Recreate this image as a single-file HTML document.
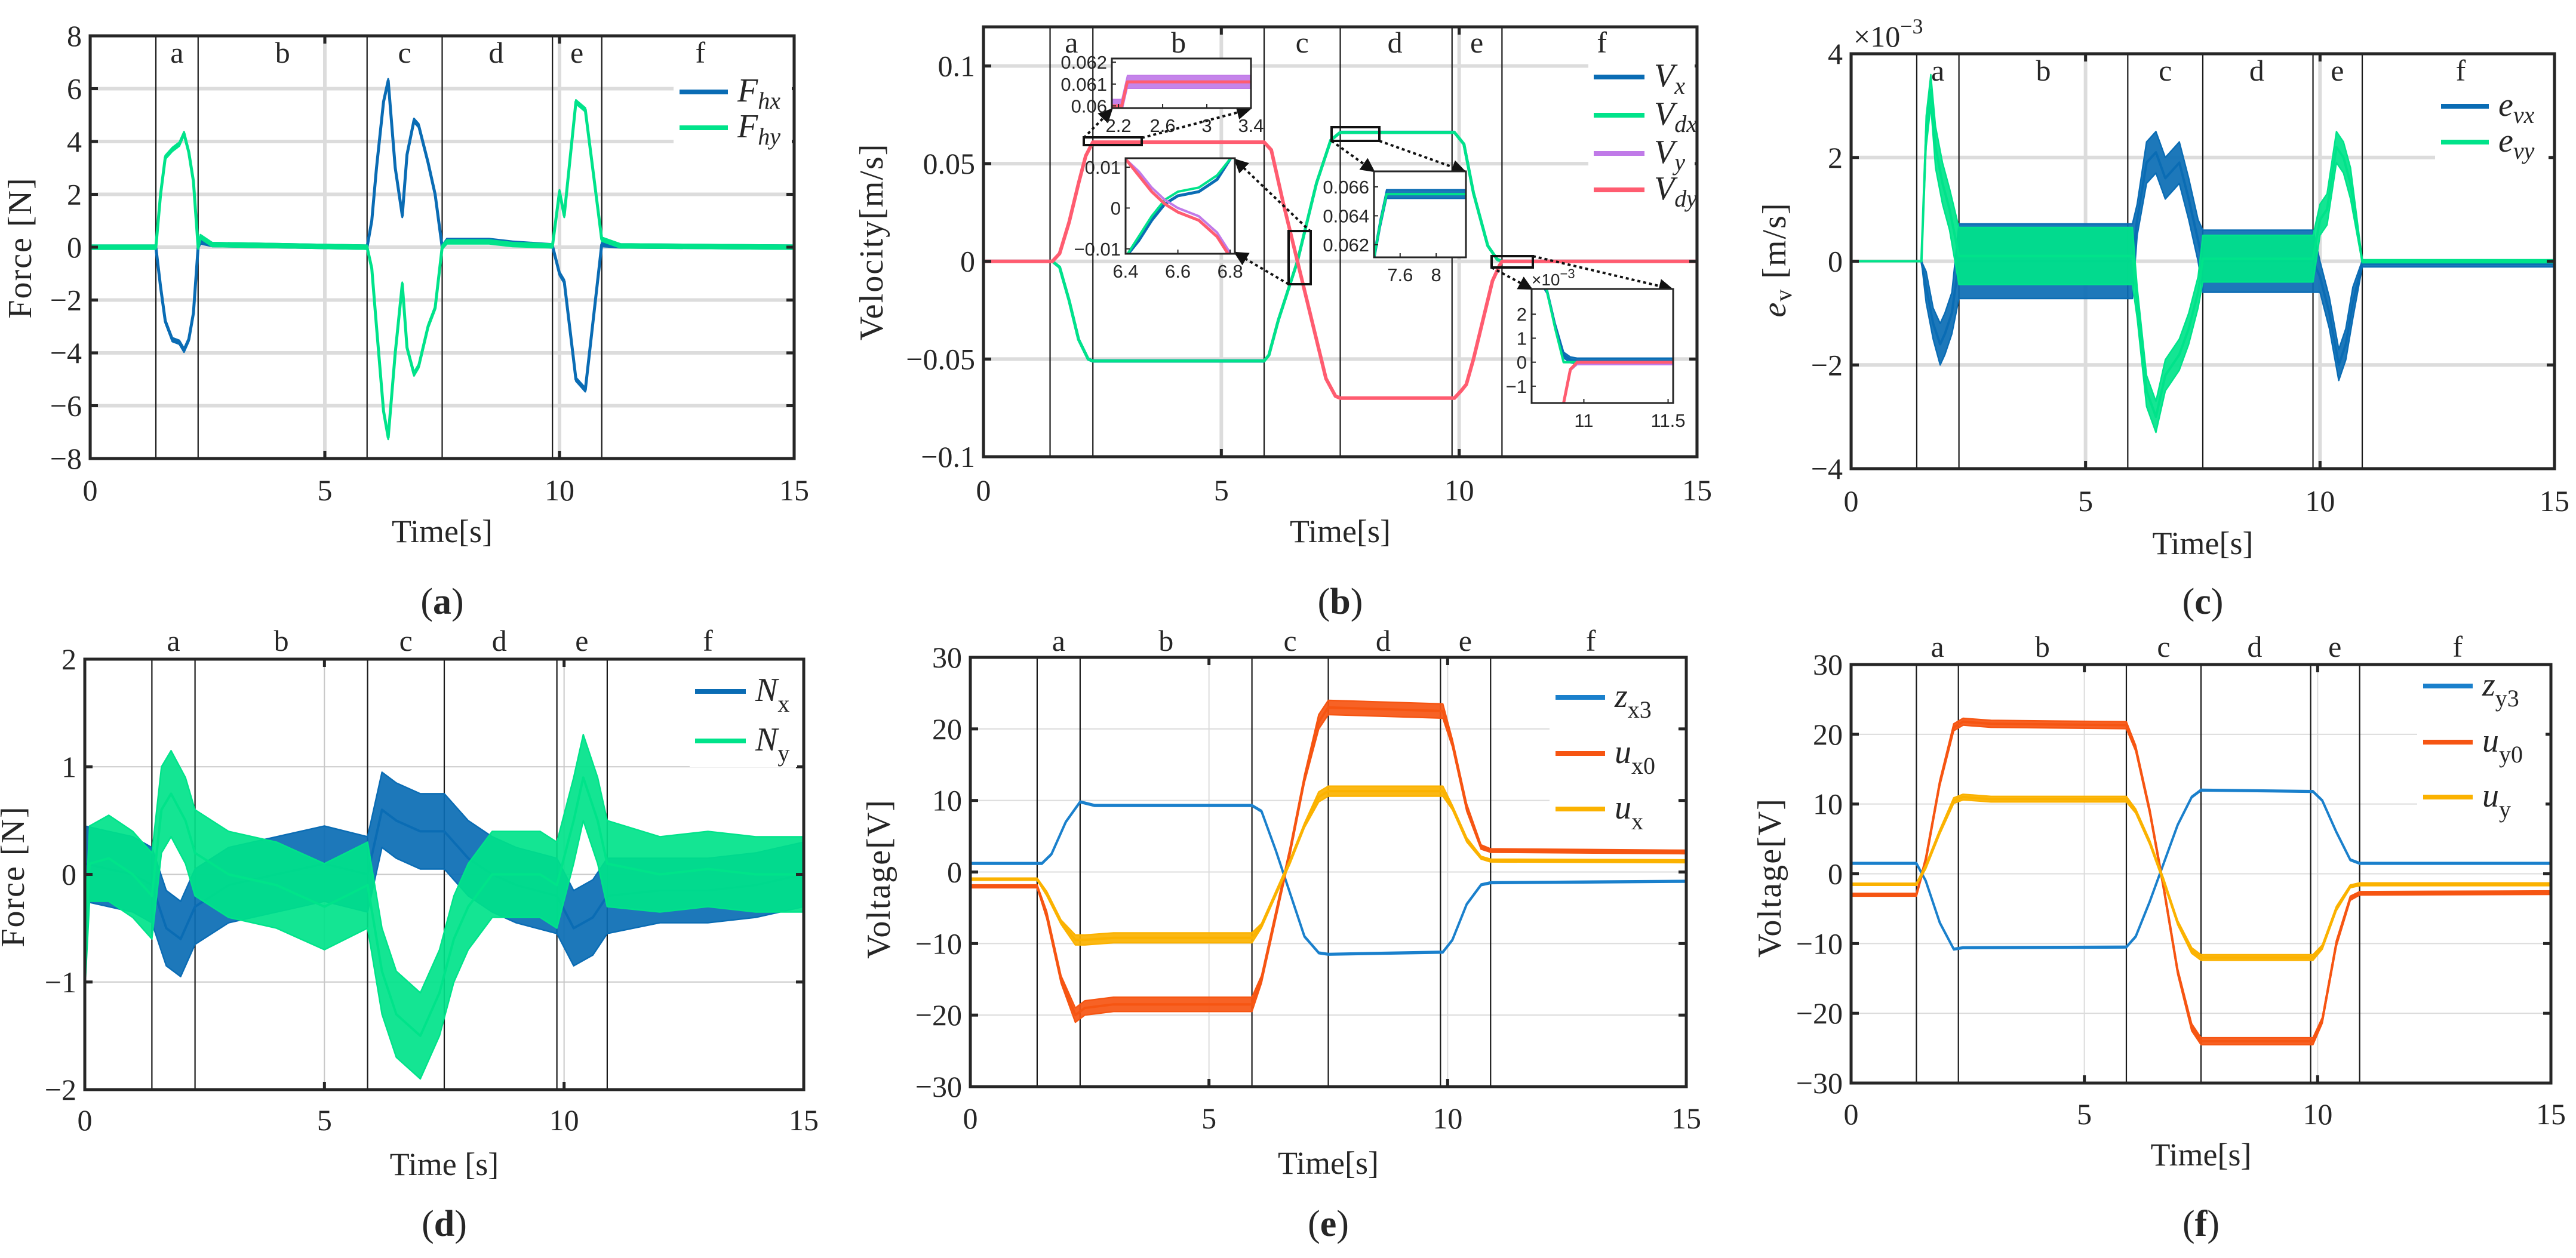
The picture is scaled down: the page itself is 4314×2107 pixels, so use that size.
<!DOCTYPE html>
<html><head><meta charset="utf-8"><style>
html,body{margin:0;padding:0;background:#fff}
svg{display:block}
text{font-family:"Liberation Serif",serif;fill:#262626}
.s{font-family:"Liberation Sans",sans-serif}
</style></head><body>
<svg id="fig" xmlns="http://www.w3.org/2000/svg" width="4314" height="2107" viewBox="0 0 4314 2107"></svg>
<script>
// ---------- shared data ----------
const phaseTimes = [1.4, 2.3, 5.9, 7.5, 9.85, 10.9];
const phaseLetters = ['a','b','c','d','e','f'];
const phaseLabelTimes = [1.85, 4.1, 6.7, 8.65, 10.37, 13.0];
const xTicks = [0, 5, 10, 15];

// (a) hand force
const aT = [0,1.4,1.5,1.6,1.75,1.9,2.0,2.1,2.2,2.3,2.35,2.6,5.9,6.0,6.1,6.25,6.35,6.5,6.65,6.75,6.9,7.0,7.2,7.35,7.5,7.6,8.5,9.0,9.85,10.0,10.1,10.35,10.55,10.67,10.9,11.3,15];
const aFhy = [0,0,2.0,3.4,3.7,3.9,4.3,3.6,2.5,0,0.4,0.1,0,-0.8,-3,-6.2,-7.2,-4,-1.4,-3.8,-4.8,-4.5,-3,-2.3,0,0.2,0.2,0.1,0.05,2.1,1.2,5.5,5.2,3.5,0.3,0.05,0];
const aFhx = [0,0,-1.5,-2.8,-3.5,-3.6,-3.9,-3.5,-2.5,0,0.2,0.1,0,1.0,3,5.5,6.3,3,1.2,3.5,4.8,4.6,3.2,2.0,0,0.25,0.25,0.15,0.05,-1.0,-1.3,-5.0,-5.4,-3.5,0.1,0.05,0];
const aYTicks = [-8,-6,-4,-2,0,2,4,6,8];

// (b) velocity
const bTy = [0,1.45,1.6,1.8,2.0,2.15,2.3,5.9,6.05,6.3,6.6,6.9,7.2,7.4,7.5,9.9,10.05,10.15,10.3,10.5,10.7,10.85,10.9,15];
const bVdy = [0,0,0.004,0.02,0.04,0.054,0.061,0.061,0.057,0.03,0,-0.03,-0.06,-0.069,-0.07,-0.07,-0.066,-0.063,-0.05,-0.03,-0.01,-0.002,0,0];
const bVy = [0,0,0.004,0.02,0.04,0.054,0.061,0.061,0.057,0.03,0,-0.03,-0.06,-0.069,-0.07,-0.07,-0.066,-0.063,-0.05,-0.03,-0.01,-0.002,0,0];
const bTx = [0,1.45,1.6,1.8,2.0,2.2,2.3,5.9,6.0,6.2,6.6,7.0,7.3,7.5,9.9,10.1,10.3,10.6,10.8,10.9,15];
const bVdx = [0,0,-0.003,-0.02,-0.04,-0.05,-0.051,-0.051,-0.048,-0.03,0,0.04,0.062,0.066,0.066,0.06,0.035,0.008,0.001,0,0];
const bVx = [0,0,-0.003,-0.02,-0.04,-0.05,-0.051,-0.051,-0.048,-0.03,0,0.04,0.062,0.066,0.066,0.06,0.035,0.008,0.001,0,0];
const bYTicks = [-0.1,-0.05,0,0.05,0.1];
const bYTickLabels = ['\u22120.1','\u22120.05','0','0.05','0.1'];
// insets
const in1T = [2.14,2.23,2.28,3.4];
const in1Vdy = [0.0600,0.0600,0.0611,0.0611];
const in1Vy = [0.0600,0.0600,0.0611,0.0611];
const in2T = [6.4,6.45,6.5,6.55,6.6,6.68,6.75,6.8];
const in2Vdy = [0.012,0.008,0.004,0.001,-0.001,-0.003,-0.007,-0.012];
const in2Vy = [0.012,0.009,0.005,0.002,0.000,-0.002,-0.006,-0.011];
const in2Vdx = [-0.012,-0.007,-0.002,0.002,0.004,0.005,0.008,0.012];
const in2Vx = [-0.012,-0.008,-0.003,0.001,0.003,0.004,0.007,0.012];
const in3T = [7.31,7.38,7.45,8.33];
const in3Vdx = [0.0611,0.0635,0.0655,0.0655];
const in3Vx = [0.0611,0.0635,0.0655,0.0655];
const in4T = [10.69,10.78,10.83,10.88,10.92,10.96,11.53];
const in4Vx = [4,3,1.5,0.3,0.1,0.05,0.05];
const in4Vdx = [4,3,1.4,0,0,0,0];
const in4Vdy = [-4,-4,-4,-1.7,-0.3,0,0];
const in4Vy = [-4,-4,-4,-1.7,-0.3,-0.05,-0.05];

// (c) velocity error (x1e-3)
const cTy = [0,1.5,1.6,1.7,1.8,1.95,2.1,2.3,6.0,6.1,6.3,6.5,6.7,6.85,7.0,7.2,7.4,7.5,9.85,10.0,10.15,10.35,10.5,10.65,10.9,15];
const cEvy = [0,0,2.5,3.3,2.2,1.5,1.0,0.1,0.1,-0.8,-2.5,-3.0,-2.2,-2.0,-1.8,-1.3,-0.6,0.05,0.05,0.8,1.0,2.2,2.0,1.5,0,0];
const cEvyN = [0,0,0.3,0.3,0.4,0.4,0.4,0.55,0.55,0.3,0.3,0.3,0.3,0.3,0.3,0.3,0.3,0.45,0.45,0.3,0.3,0.3,0.3,0.3,0.03,0.03];
const cTx = [0,1.5,1.6,1.75,1.9,2.0,2.15,2.3,6.0,6.1,6.3,6.5,6.7,6.9,7.0,7.2,7.4,7.5,9.85,10.0,10.2,10.4,10.55,10.7,10.9,15];
const cEvx = [0,0,-0.5,-1.2,-1.6,-1.4,-1.0,0,0,0.8,1.9,2.1,1.6,1.8,1.9,1.2,0.4,0,0,-0.3,-1.0,-2.0,-1.6,-0.8,-0.05,-0.05];
const cEvxN = [0,0,0.3,0.3,0.4,0.4,0.4,0.72,0.72,0.3,0.4,0.4,0.4,0.4,0.4,0.4,0.4,0.6,0.6,0.3,0.3,0.3,0.3,0.3,0.06,0.06];
const cYTicks = [-4,-2,0,2,4];

// (d) disturbance force
const dTx = [0,0.5,1.0,1.4,1.7,2.0,2.3,3.0,4.0,5.0,5.9,6.2,6.5,7.0,7.5,8.0,8.5,9.0,9.85,10.2,10.6,10.9,12,13,14,15];
const dNx = [0.1,0.05,0,-0.1,-0.5,-0.6,-0.3,-0.1,0,0.1,0,0.6,0.5,0.4,0.4,0.15,0,-0.1,-0.2,-0.5,-0.4,-0.2,-0.15,-0.15,-0.1,0];
const dNxN = [0.35,0.35,0.35,0.35,0.35,0.35,0.35,0.35,0.35,0.35,0.35,0.35,0.35,0.35,0.35,0.35,0.35,0.35,0.35,0.35,0.35,0.35,0.3,0.3,0.3,0.3];
const dTy = [0,0.1,0.5,1.0,1.4,1.6,1.8,2.1,2.3,3.0,4.0,5.0,5.9,6.2,6.5,7.0,7.4,7.7,8.0,8.5,9.5,9.85,10.2,10.4,10.7,10.9,12,13,14,15];
const dNy = [-0.8,0.1,0.15,0,-0.2,0.6,0.75,0.5,0.2,0,-0.1,-0.3,-0.1,-0.9,-1.3,-1.5,-1.1,-0.6,-0.3,0,0,-0.1,0.5,0.9,0.5,0.1,0,0.05,0,0];
const dNyN = [0.3,0.35,0.4,0.4,0.4,0.4,0.4,0.4,0.4,0.4,0.4,0.4,0.4,0.4,0.4,0.4,0.4,0.4,0.4,0.4,0.4,0.4,0.4,0.4,0.4,0.4,0.35,0.35,0.35,0.35];
const dYTicks = [-2,-1,0,1,2];

// (e) x voltages
const eTz = [0,1.5,1.7,2.0,2.3,2.6,5.9,6.1,6.4,6.7,7.0,7.3,7.5,9.9,10.1,10.4,10.7,10.9,15];
const eZx3 = [1.2,1.2,2.5,7,9.8,9.3,9.3,8.5,3,-3,-9,-11.3,-11.5,-11.2,-9.5,-4.5,-1.8,-1.5,-1.3];
const eTu = [0,1.4,1.6,1.9,2.2,2.4,3,5.9,6.1,6.4,6.7,7.0,7.3,7.5,9.9,10.1,10.4,10.7,10.9,15];
const eUx0 = [-2,-2,-6,-15,-20,-19,-18.5,-18.5,-15,-6,3,13,21,23,22.5,18,9,3.5,3,2.8];
const eUx0N = [0.2,0.2,0.5,0.5,1,1,1,1,0.5,0.5,0.5,0.5,1,1,1,0.5,0.5,0.3,0.25,0.25];
const eUx = [-1,-1,-3,-7,-9.5,-9.5,-9.2,-9.2,-7.5,-3,1.5,6.5,10.5,11.3,11.3,9,4.5,2,1.6,1.5];
const eUxN = [0.15,0.15,0.3,0.3,0.7,0.7,0.7,0.7,0.3,0.3,0.3,0.3,0.7,0.7,0.7,0.3,0.3,0.2,0.2,0.2];
const vYTicks = [-30,-20,-10,0,10,20,30];

// (f) y voltages
const fTz = [0,1.4,1.6,1.9,2.2,2.4,5.9,6.1,6.4,6.7,7.0,7.3,7.5,9.9,10.1,10.4,10.7,10.9,15];
const fZy3 = [1.5,1.5,-1,-7,-10.8,-10.6,-10.5,-9,-4,1.5,7,11,12,11.8,10.5,6,2,1.5,1.5];
const fTu = [0,1.4,1.6,1.9,2.2,2.4,3,5.9,6.1,6.4,6.7,7.0,7.3,7.5,9.9,10.1,10.4,10.7,10.9,15];
const fUy0 = [-3,-3,2,13,21,21.8,21.5,21.3,18,9,-2,-14,-22,-24,-24,-21,-10,-3.5,-2.8,-2.7];
const fUy0N = [0.2,0.2,0.4,0.4,0.5,0.5,0.5,0.5,0.4,0.4,0.4,0.4,0.5,0.5,0.5,0.4,0.4,0.3,0.25,0.25];
const fUy = [-1.5,-1.5,1,6,10.5,11,10.7,10.7,9,4.5,-1,-7,-11,-12,-12,-10.5,-5,-1.8,-1.5,-1.5];
const fUyN = [0.15,0.15,0.3,0.3,0.4,0.4,0.4,0.4,0.3,0.3,0.3,0.3,0.4,0.4,0.4,0.3,0.3,0.2,0.2,0.2];

// ---------- drawing helpers ----------
const NS = 'http://www.w3.org/2000/svg';
const svg = document.getElementById('fig');
function el(tag, attrs, parent) {
  const e = document.createElementNS(NS, tag);
  for (const k in attrs) e.setAttribute(k, attrs[k]);
  (parent || svg).appendChild(e);
  return e;
}
const BLUE = '#0a6cb4', GREEN = '#00e38a', PURPLE = '#c07ae8', RED = '#ff5c70',
      ORANGE = '#f65512', YELLOW = '#fbb200', ZBLUE = '#1a80cc';

let clipId = 0;
function makeAxes(c) {
  const g = el('g', {});
  
  
  const xs = t => c.l + (t - c.x0) / (c.x1 - c.x0) * (c.r - c.l);
  const ys = v => c.b - (v - c.y0) / (c.y1 - c.y0) * (c.b - c.t);
  const bg = el('rect', {x:c.l, y:c.t, width:c.r-c.l, height:c.b-c.t, fill:'#fff'}, g);
  
  
  const cid = 'clip' + (clipId++);
  const cp = el('clipPath', {id:cid}, g);
  el('rect', {x:c.l, y:c.t, width:c.r-c.l, height:c.b-c.t}, cp);
  const plot = el('g', {'clip-path':'url(#'+cid+')'}, g);
  return {g, plot, xs, ys, c};
}
function drawSeries(ax, T, V, N, color, w, name) {
  const {xs, ys, plot} = ax;
  if (N) {
    let up = [], lo = [];
    for (let i = 0; i < T.length; i++) {
      const n = Array.isArray(N) ? N[i] : N;
      up.push(xs(T[i]).toFixed(1) + ',' + ys(V[i] + n).toFixed(1));
      lo.unshift(xs(T[i]).toFixed(1) + ',' + ys(V[i] - n).toFixed(1));
    }
    const band = el('polygon', {points: up.concat(lo).join(' '), fill: color, 'fill-opacity': 0.92, stroke: color, 'stroke-width': w*0.6, 'stroke-linejoin':'round'}, plot);
    
    
  }
  const pts = T.map((t, i) => xs(t).toFixed(1) + ',' + ys(V[i]).toFixed(1)).join(' ');
  const line = el('polyline', {points: pts, fill:'none', stroke: color, 'stroke-width': w, 'stroke-linejoin':'round', 'stroke-linecap':'round'}, plot);
  
  
}
function decorate(ax, o) {
  const {g, plot, xs, ys, c} = ax;
  o.yTicks.forEach(v => {
    const gl = el('line', {x1:c.l, x2:c.r, y1:ys(v), y2:ys(v), stroke:o.gridColor, 'stroke-width':o.gridW}, plot);
    
    
  });
  xTicks.forEach(t => {
    const gl = el('line', {x1:xs(t), x2:xs(t), y1:c.t, y2:c.b, stroke:o.gridColor, 'stroke-width':o.gridW}, plot);
    
    
  });
  phaseTimes.forEach(t => {
    const pl = el('line', {x1:xs(t), x2:xs(t), y1:c.t, y2:c.b, stroke:'#1a1a1a', 'stroke-width':2.2}, plot);
    
    
  });
}
function finish(ax, o) {
  const {g, xs, ys, c} = ax;
  const box = el('rect', {x:c.l, y:c.t, width:c.r-c.l, height:c.b-c.t, fill:'none', stroke:'#262626', 'stroke-width':5}, g);
  
  
  o.yTicks.forEach((v, i) => {
    el('line', {x1:c.l, x2:c.l+13, y1:ys(v), y2:ys(v), stroke:'#262626', 'stroke-width':5}, g);
    el('line', {x1:c.r-13, x2:c.r, y1:ys(v), y2:ys(v), stroke:'#262626', 'stroke-width':5}, g);
    const tl = el('text', {x:c.l-14, y:ys(v)+17, 'text-anchor':'end', 'font-size':50}, g);
    tl.textContent = o.yLabels ? o.yLabels[i] : String(v).replace('-', '\u2212');
    
    
  });
  xTicks.forEach(t => {
    el('line', {x1:xs(t), x2:xs(t), y1:c.b-13, y2:c.b, stroke:'#262626', 'stroke-width':5}, g);
    el('line', {x1:xs(t), x2:xs(t), y1:c.t, y2:c.t+13, stroke:'#262626', 'stroke-width':5}, g);
    const tl = el('text', {x:xs(t), y:o.xTickY, 'text-anchor':'middle', 'font-size':50}, g);
    tl.textContent = String(t);
    
    
  });
  phaseLetters.forEach((p, i) => {
    const pl = el('text', {x:xs(phaseLabelTimes[i]), y:o.phaseY, 'text-anchor':'middle', 'font-size':50}, g);
    pl.textContent = p;
    
    
  });
  const xt = el('text', {x:(c.l+c.r)/2, y:o.xTitleY, 'text-anchor':'middle', 'font-size':54}, g);
  xt.textContent = o.xTitle;
  
  
  const cap = el('text', {x:(c.l+c.r)/2, y:o.capY, 'text-anchor':'middle', 'font-size':62}, g);
  cap.innerHTML = '(<tspan font-weight="bold">' + o.cap + '</tspan>)';
  
  
}
function yTitle(x, y, html) {
  const t = el('text', {x:x, y:y, 'text-anchor':'middle', 'font-size':56, transform:'rotate(-90 '+x+' '+y+')', 'letter-spacing':2});
  t.innerHTML = html;
  
  
}
function legend(items, x1, x2, bgRect) {
  const lg = el('g', {});
  
  
  el('rect', {x:bgRect[0], y:bgRect[1], width:bgRect[2], height:bgRect[3], fill:'#fff'}, lg);
  items.forEach(it => {
    const ln = el('line', {x1:x1, x2:x2, y1:it.y, y2:it.y, stroke:it.color, 'stroke-width':8}, lg);
    
    
    const tx = el('text', {x:x2+16, y:it.y+16, 'font-size':it.fs || 56}, lg);
    tx.innerHTML = it.html;
    
    
  });
}

// ---------- (a) ----------
const axA = makeAxes({name:'panel-a-hand-force', l:151, r:1330, t:60, b:768, x0:0, x1:15, y0:-8, y1:8});
decorate(axA, {yTicks:aYTicks, gridColor:'#dcdcdc', gridW:6});
drawSeries(axA, aT, aFhx, 0.07, BLUE, 5, 'fhx');
drawSeries(axA, aT, aFhy, 0.07, GREEN, 5, 'fhy');
legend([{y:154, color:BLUE, html:'<tspan font-style="italic">F</tspan><tspan font-style="italic" font-size="40" dy="12">hx</tspan>'},
        {y:214, color:GREEN, html:'<tspan font-style="italic">F</tspan><tspan font-style="italic" font-size="40" dy="12">hy</tspan>'}],
       1138, 1219, [1128, 118, 198, 135]);
finish(axA, {yTicks:aYTicks, xTickY:838, phaseY:105, xTitle:'Time[s]', xTitleY:908, cap:'a', capY:1028});
yTitle(52, 415, 'Force [N]');

// ---------- (b) ----------
const axB = makeAxes({name:'panel-b-velocity', l:1647, r:2842, t:45, b:765, x0:0, x1:15, y0:-0.1, y1:0.12});
decorate(axB, {yTicks:bYTicks, gridColor:'#dcdcdc', gridW:6});
drawSeries(axB, bTx, bVx, 0.0004, BLUE, 5, 'vx');
drawSeries(axB, bTx, bVdx, 0, GREEN, 5, 'vdx');
drawSeries(axB, bTy, bVy, 0.0003, PURPLE, 5, 'vy');
drawSeries(axB, bTy, bVdy, 0, RED, 6, 'vdy');
legend([{y:129, color:BLUE, html:'<tspan font-style="italic">V</tspan><tspan font-style="italic" font-size="40" dy="12">x</tspan>'},
        {y:193, color:GREEN, html:'<tspan font-style="italic">V</tspan><tspan font-style="italic" font-size="40" dy="12">dx</tspan>'},
        {y:257, color:PURPLE, html:'<tspan font-style="italic">V</tspan><tspan font-style="italic" font-size="40" dy="12">y</tspan>'},
        {y:318, color:RED, html:'<tspan font-style="italic">V</tspan><tspan font-style="italic" font-size="40" dy="12">dy</tspan>'}],
       2669, 2754, [2660, 95, 178, 250]);
const zr = [[1815,230,97,13],[2158,387,37,89],[2230,213,80,23],[2498,429,69,19]];
zr.forEach(r => {
  const rr = el('rect', {x:r[0], y:r[1], width:r[2], height:r[3], fill:'none', stroke:'#111', 'stroke-width':4});
  
  
});
const defs = el('defs', {});
const mk = el('marker', {id:'arr', viewBox:'0 0 10 10', refX:9, refY:5, markerWidth:6, markerHeight:6, orient:'auto'}, defs);
el('path', {d:'M0,0 L10,5 L0,10 z', fill:'#111'}, mk);
const arrows = [[1815,231,1862,183],[1912,231,2093,183],[2195,388,2068,267],[2158,476,2068,423],[2230,236,2301,287],[2310,236,2453,287],[2498,448,2565,484],[2567,429,2800,484]];
arrows.forEach(a => {
  const ar = el('line', {x1:a[0], y1:a[1], x2:a[2], y2:a[3], stroke:'#111', 'stroke-width':4, 'stroke-dasharray':'5 5', 'marker-end':'url(#arr)'});
  
  
});
function inset(cfg, series, yt, xt) {
  const ax = makeAxes(cfg);
  series.forEach(s => drawSeries(ax, s[0], s[1], s[2], s[3], s[4], s[5]));
  const c = ax.c;
  const bx = el('rect', {x:c.l, y:c.t, width:c.r-c.l, height:c.b-c.t, fill:'none', stroke:'#262626', 'stroke-width':3}, ax.g);
  
  
  yt.forEach(v => {
    const t = el('text', {x:c.l-8, y:ax.ys(v[0])+11, 'text-anchor':'end', 'font-size':31, class:'s'}, ax.g);
    t.textContent = v[1];
    
    
    el('line', {x1:c.l, x2:c.l+7, y1:ax.ys(v[0]), y2:ax.ys(v[0]), stroke:'#262626', 'stroke-width':2}, ax.g);
  });
  xt.forEach(v => {
    const t = el('text', {x:ax.xs(v[0]), y:c.b+40, 'text-anchor':'middle', 'font-size':31, class:'s'}, ax.g);
    t.textContent = v[1];
    
    
    el('line', {x1:ax.xs(v[0]), x2:ax.xs(v[0]), y1:c.b, y2:c.b-7, stroke:'#262626', 'stroke-width':2}, ax.g);
  });
  return ax;
}
inset({name:'inset-b-plateau', l:1862, r:2095, t:98, b:181, x0:2.14, x1:3.4, y0:0.0599, y1:0.06217},
  [[in1T, in1Vy, 0.0003, PURPLE, 3, 'inset-vy'], [in1T, in1Vdy, 0, RED, 5, 'inset-vdy']],
  [[0.062,'0.062'],[0.061,'0.061'],[0.06,'0.06']], [[2.2,'2.2'],[2.6,'2.6'],[3,'3'],[3.4,'3.4']]);
inset({name:'inset-b-crossing', l:1885, r:2068, t:265, b:425, x0:6.4, x1:6.818, y0:-0.0112, y1:0.0122},
  [[in2T, in2Vx, 0, BLUE, 5, 'inset-vx'], [in2T, in2Vdx, 0, GREEN, 4, 'inset-vdx'], [in2T, in2Vy, 0, PURPLE, 4, 'inset-vy'], [in2T, in2Vdy, 0, RED, 5, 'inset-vdy']],
  [[0.01,'0.01'],[0,'0'],[-0.01,'\u22120.01']], [[6.4,'6.4'],[6.6,'6.6'],[6.8,'6.8']]);
inset({name:'inset-b-peak', l:2301, r:2455, t:287, b:431, x0:7.31, x1:8.33, y0:0.06113, y1:0.06707},
  [[in3T, in3Vx, 0.0003, BLUE, 4, 'inset-vx'], [in3T, in3Vdx, 0, GREEN, 4, 'inset-vdx']],
  [[0.066,'0.066'],[0.064,'0.064'],[0.062,'0.062']], [[7.6,'7.6'],[8,'8']]);
inset({name:'inset-b-settle', l:2565, r:2802, t:484, b:675, x0:10.69, x1:11.53, y0:-1.7, y1:3.05},
  [[in4T, in4Vx, 0.12, BLUE, 4, 'inset-vx'], [in4T, in4Vdx, 0, GREEN, 4, 'inset-vdx'], [in4T, in4Vy, 0.05, PURPLE, 4, 'inset-vy'], [in4T, in4Vdy, 0, RED, 5, 'inset-vdy']],
  [[2,'2'],[1,'1'],[0,'0'],[-1,'\u22121']], [[11,'11'],[11.5,'11.5']]);
const ex4 = el('text', {x:2565, y:478, 'font-size':28, class:'s'});
ex4.innerHTML = '\u00d710<tspan dy="-12" font-size="22">\u22123</tspan>';


finish(axB, {yTicks:bYTicks, yLabels:bYTickLabels, xTickY:838, phaseY:88, xTitle:'Time[s]', xTitleY:908, cap:'b', capY:1028});
yTitle(1478, 405, 'Velocity[m/s]');

// ---------- (c) ----------
const axC = makeAxes({name:'panel-c-velocity-error', l:3100, r:4278, t:90, b:785, x0:0, x1:15, y0:-4, y1:4});
decorate(axC, {yTicks:cYTicks, gridColor:'#dcdcdc', gridW:6});
drawSeries(axC, cTx, cEvx, cEvxN, BLUE, 4, 'evx');
drawSeries(axC, cTy, cEvy, cEvyN, GREEN, 4, 'evy');
legend([{y:178, color:BLUE, html:'<tspan font-style="italic">e</tspan><tspan font-style="italic" font-size="40" dy="12">vx</tspan>'},
        {y:238, color:GREEN, html:'<tspan font-style="italic">e</tspan><tspan font-style="italic" font-size="40" dy="12">vy</tspan>'}],
       4088, 4168, [4078, 145, 190, 130]);
finish(axC, {yTicks:cYTicks, xTickY:856, phaseY:135, xTitle:'Time[s]', xTitleY:928, cap:'c', capY:1028});
const exC = el('text', {x:3104, y:78, 'font-size':50});
exC.innerHTML = '\u00d710<tspan dy="-22" font-size="36">\u22123</tspan>';


yTitle(2990, 435, '<tspan font-style="italic">e</tspan><tspan font-size="40" dx="0" dy="10">v</tspan><tspan dy="-10"> [m/s]</tspan>');

// ---------- (d) ----------
const axD = makeAxes({name:'panel-d-disturbance-force', l:142, r:1346, t:1104, b:1825, x0:0, x1:15, y0:-2, y1:2});
decorate(axD, {yTicks:dYTicks, gridColor:'#c8c8c8', gridW:2});
drawSeries(axD, dTx, dNx, dNxN, BLUE, 4, 'nx');
drawSeries(axD, dTy, dNy, dNyN, GREEN, 4, 'ny');
legend([{y:1158, color:BLUE, html:'<tspan font-style="italic">N</tspan><tspan font-size="40" dy="18">x</tspan>'},
        {y:1241, color:GREEN, html:'<tspan font-style="italic">N</tspan><tspan font-size="40" dy="18">y</tspan>'}],
       1164, 1249, [1155, 1115, 180, 170]);
finish(axD, {yTicks:dYTicks, xTickY:1893, phaseY:1090, xTitle:'Time [s]', xTitleY:1968, cap:'d', capY:2070});
yTitle(40, 1468, 'Force [N]');

// ---------- (e) ----------
const axE = makeAxes({name:'panel-e-x-voltage', l:1625, r:2824, t:1101, b:1820, x0:0, x1:15, y0:-30, y1:30});
decorate(axE, {yTicks:vYTicks, gridColor:'#dcdcdc', gridW:2});
drawSeries(axE, eTz, eZx3, 0.12, ZBLUE, 4, 'zx3');
drawSeries(axE, eTu, eUx0, eUx0N, ORANGE, 4, 'ux0');
drawSeries(axE, eTu, eUx, eUxN, YELLOW, 4, 'ux');
legend([{y:1168, color:ZBLUE, html:'<tspan font-style="italic">z</tspan><tspan font-size="40" dy="18">x3</tspan>'},
        {y:1262, color:ORANGE, html:'<tspan font-style="italic">u</tspan><tspan font-size="40" dy="18">x0</tspan>'},
        {y:1355, color:YELLOW, html:'<tspan font-style="italic">u</tspan><tspan font-size="40" dy="18">x</tspan>'}],
       2605, 2688, [2595, 1125, 215, 280]);
finish(axE, {yTicks:vYTicks, xTickY:1890, phaseY:1090, xTitle:'Time[s]', xTitleY:1966, cap:'e', capY:2070});
yTitle(1490, 1472, 'Voltage[V]');

// ---------- (f) ----------
const axF = makeAxes({name:'panel-f-y-voltage', l:3100, r:4272, t:1113, b:1814, x0:0, x1:15, y0:-30, y1:30});
decorate(axF, {yTicks:vYTicks, gridColor:'#dcdcdc', gridW:2});
drawSeries(axF, fTz, fZy3, 0.12, ZBLUE, 4, 'zy3');
drawSeries(axF, fTu, fUy0, fUy0N, ORANGE, 4, 'uy0');
drawSeries(axF, fTu, fUy, fUyN, YELLOW, 4, 'uy');
legend([{y:1149, color:ZBLUE, html:'<tspan font-style="italic">z</tspan><tspan font-size="40" dy="18">y3</tspan>'},
        {y:1243, color:ORANGE, html:'<tspan font-style="italic">u</tspan><tspan font-size="40" dy="18">y0</tspan>'},
        {y:1335, color:YELLOW, html:'<tspan font-style="italic">u</tspan><tspan font-size="40" dy="18">y</tspan>'}],
       4058, 4141, [4048, 1118, 215, 270]);
finish(axF, {yTicks:vYTicks, xTickY:1883, phaseY:1100, xTitle:'Time[s]', xTitleY:1952, cap:'f', capY:2070});
yTitle(2982, 1470, 'Voltage[V]');
</script>
</body></html>
